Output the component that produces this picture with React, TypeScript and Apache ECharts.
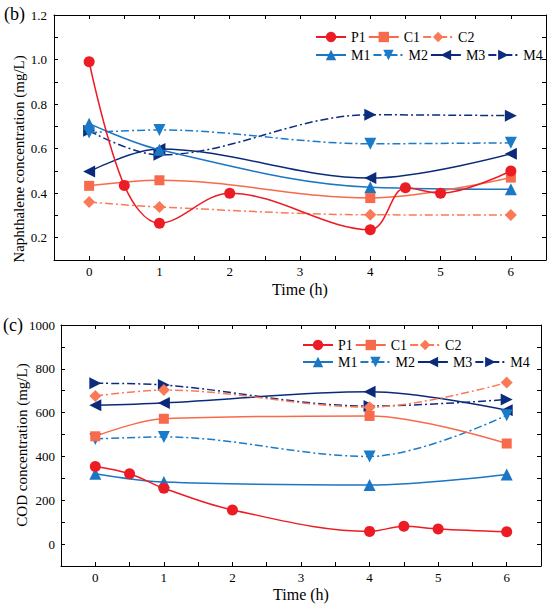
import React, { useEffect, useRef } from "react";
import * as echarts from "echarts";

// ---- data ----
const seriesNames = ["P1", "C1", "C2", "M1", "M2", "M3", "M4"];
const timesP1 = [0, 0.5, 1, 2, 4, 4.5, 5, 6];
const timesOther = [0, 1, 4, 6];

// (b) Naphthalene concentration (mg/L)
const napP1 = [0.99, 0.435, 0.265, 0.4, 0.236, 0.424, 0.4, 0.5];
const napC1 = [0.433, 0.458, 0.378, 0.47];
const napC2 = [0.36, 0.338, 0.303, 0.302];
const napM1 = [0.712, 0.595, 0.427, 0.418];
const napM2 = [0.672, 0.684, 0.622, 0.626];
const napM3 = [0.497, 0.598, 0.468, 0.577];
const napM4 = [0.68, 0.572, 0.752, 0.748];

// (c) COD concentration (mg/L)
const codP1 = [354, 321, 255, 156, 58, 81, 69, 56];
const codC1 = [492, 572, 585, 459];
const codC2 = [676, 703, 625, 737];
const codM1 = [321, 283, 270, 318];
const codM2 = [480, 489, 400, 588];
const codM3 = [634, 644, 695, 611];
const codM4 = [734, 726, 630, 660];

const xTickLabels = ["0", "1", "2", "3", "4", "5", "6"];

// ---- styles ----
const colors = ["#EC1C24", "#F86A4C", "#FA7A58", "#1B76C4", "#1A7BC8", "#0B2B7A", "#0C2D7E"];
const symbols = ["circle", "rect", "diamond", "triangle", "triangle", "triangle", "triangle"];
const symbolRot = [0, 0, 0, 0, 180, 90, -90];
const symbolSizes = [11, 10, 12, 12, 12, 12, 12];
const dashDot = [8, 3, 2, 3];
const lineTypes: any[] = ["solid", "solid", dashDot, "solid", dashDot, "solid", dashDot];

const FONT = "'Times New Roman', 'Liberation Serif', serif";

const napData = [napP1, napC1, napC2, napM1, napM2, napM3, napM4];
const codData = [codP1, codC1, codC2, codM1, codM2, codM3, codM4];

function pairs(vals: number[], idx: number) {
  const ts = idx === 0 ? timesP1 : timesOther;
  return vals.map((v, i) => [ts[i], v]);
}

function makeSeries(data: number[][], axisIdx: number) {
  return data.map((vals, i) => ({
    name: seriesNames[i],
    type: "line",
    xAxisIndex: axisIdx,
    yAxisIndex: axisIdx,
    data: pairs(vals, i),
    smooth: 0.35,
    symbol: symbols[i],
    symbolSize: symbolSizes[i],
    symbolRotate: symbolRot[i],
    itemStyle: { color: colors[i] },
    lineStyle: { color: colors[i], width: 1.5, type: lineTypes[i] },
    z: 10 - i,
  }));
}

const axisLineStyle = { show: true, onZero: false, lineStyle: { color: "#000", width: 1 } };

function xAxes(gridIndex: number, tickLen: number, labelMargin: number) {
  const intLabel = (v: number) => {
    const k = Math.round(v * 2);
    if (k % 2 !== 0) return "";
    const n = k / 2;
    return n >= 0 && n < xTickLabels.length ? xTickLabels[n] : "";
  };
  return [
    {
      type: "value",
      gridIndex,
      position: "bottom",
      min: -0.5,
      max: 6.5,
      interval: 0.5,
      axisLine: axisLineStyle,
      axisTick: { show: true, inside: true, length: tickLen, lineStyle: { color: "#000" } },
      axisLabel: { formatter: intLabel, color: "#000", fontFamily: FONT, fontSize: 13, margin: labelMargin, showMinLabel: true, showMaxLabel: true },
      splitLine: { show: false },
    },
    {
      type: "value",
      gridIndex,
      position: "top",
      min: -0.5,
      max: 6.5,
      interval: 0.5,
      axisLine: axisLineStyle,
      axisTick: { show: true, inside: true, length: tickLen, lineStyle: { color: "#000" } },
      axisLabel: { show: false },
      splitLine: { show: false },
    },
  ];
}

function yAxes(gridIndex: number, min: number, max: number, interval: number, labelFn: (v: number) => string, labelMargin: number) {
  return [
    {
      type: "value",
      gridIndex,
      position: "left",
      min,
      max,
      interval,
      axisLine: axisLineStyle,
      axisTick: { show: true, inside: true, length: 4, lineStyle: { color: "#000" } },
      axisLabel: { formatter: labelFn, color: "#000", fontFamily: FONT, fontSize: 13, margin: labelMargin, showMinLabel: true, showMaxLabel: true },
      splitLine: { show: false },
    },
    {
      type: "value",
      gridIndex,
      position: "right",
      min,
      max,
      interval,
      axisLine: axisLineStyle,
      axisTick: { show: true, inside: true, length: 4, lineStyle: { color: "#000" } },
      axisLabel: { show: false },
      splitLine: { show: false },
    },
  ];
}

function legendRow(names: string[], left: number, top: number) {
  return {
    data: names,
    left,
    top,
    width: 240,
    orient: "horizontal",
    itemWidth: 30,
    itemHeight: 13,
    itemGap: 2,
    padding: 0,
    textStyle: { fontFamily: FONT, fontSize: 14, color: "#000", width: 18 },
  };
}

export default function App() {
  const ref = useRef<HTMLDivElement>(null);
  useEffect(() => {
    if (!ref.current) return;
    const chart = echarts.init(ref.current, undefined, { renderer: "svg" });
    const napLabel = (v: number) => {
      const k = Math.round(v * 10);
      return k % 2 === 0 ? (k / 10).toFixed(1) : "";
    };
    const codLabel = (v: number) => {
      const k = Math.round(v);
      return k >= 0 && k % 200 === 0 ? String(k) : "";
    };
    const xa = [...xAxes(0, 4, 5), ...xAxes(1, 4, 5)];
    const ya = [...yAxes(0, 0.1, 1.2, 0.1, napLabel, 7), ...yAxes(1, -100, 1000, 100, codLabel, 6)];
    const topSeries = makeSeries(napData, 0);
    const botSeries = makeSeries(codData, 2);
    chart.setOption({
      animation: false,
      backgroundColor: "#fff",
      grid: [
        { left: 54, top: 15, width: 492, height: 245, show: false },
        { left: 61, top: 325, width: 480, height: 241, show: false },
      ],
      xAxis: xa,
      yAxis: ya,
      legend: [
        legendRow(["P1", "C1", "C2"], 315, 30),
        legendRow(["M1", "M2", "M3", "M4"], 315, 48),
        legendRow(["P1", "C1", "C2"], 302, 338),
        legendRow(["M1", "M2", "M3", "M4"], 302, 355),
      ],
      series: [...topSeries, ...botSeries],
      graphic: [
        { type: "text", left: 4, top: 5, style: { text: "(b)", fontFamily: FONT, fontSize: 18, fill: "#000" } },
        { type: "text", left: 3, top: 316, style: { text: "(c)", fontFamily: FONT, fontSize: 18, fill: "#000" } },
        {
          type: "text",
          x: 19,
          y: 159,
          rotation: Math.PI / 2,
          style: { text: "Naphthalene concentration (mg/L)", fontFamily: FONT, fontSize: 15, fill: "#000", align: "center", verticalAlign: "middle" },
        },
        {
          type: "text",
          x: 22,
          y: 445,
          rotation: Math.PI / 2,
          style: { text: "COD concentration (mg/L)", fontFamily: FONT, fontSize: 15, fill: "#000", align: "center", verticalAlign: "middle" },
        },
        {
          type: "text",
          x: 300,
          y: 289,
          style: { text: "Time (h)", fontFamily: FONT, fontSize: 16, fill: "#000", align: "center", verticalAlign: "middle" },
        },
        {
          type: "text",
          x: 301,
          y: 594,
          style: { text: "Time (h)", fontFamily: FONT, fontSize: 16, fill: "#000", align: "center", verticalAlign: "middle" },
        },
      ],
    });
    return () => chart.dispose();
  }, []);
  return <div ref={ref} style={{ position: "fixed", left: 0, top: 0, width: 550, height: 604 }} />;
}
